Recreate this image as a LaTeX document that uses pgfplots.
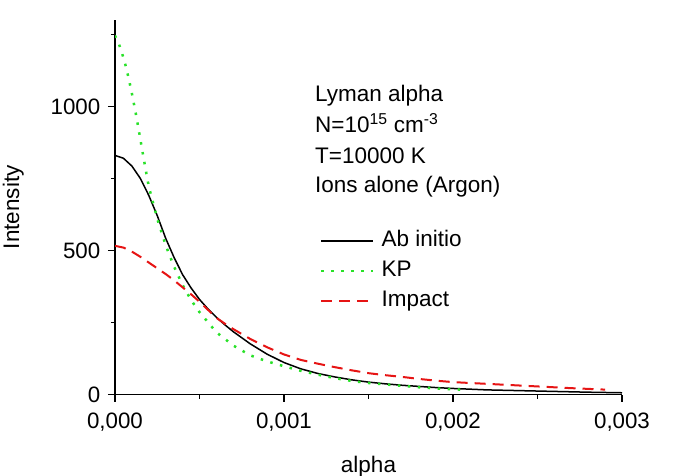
\documentclass[border=0pt]{standalone}
\usepackage{fontspec}
\setmainfont{Liberation Sans}
\usepackage{pgfplots}
\pgfplotsset{compat=1.18}
\definecolor{kpgreen}{RGB}{40,225,40}
\definecolor{impred}{RGB}{230,20,20}
\newcommand{\bigf}{\fontsize{22.5bp}{26bp}\selectfont}
\newcommand{\tickf}{\fontsize{22.3bp}{26bp}\selectfont}
\begin{document}
\bigf
\begin{tikzpicture}
\useasboundingbox (0,0) rectangle (675bp,476bp);
\begin{axis}[
  at={(115bp,81.5bp)}, anchor=south west,
  scale only axis, width=507bp, height=374.5bp,
  xmin=0, xmax=0.003, ymin=0, ymax=1300,
  axis x line=bottom, axis y line=left,
  axis line style={-, line width=1.5bp},
  tick align=outside, major tick length=7bp, minor tick length=4bp,
  every tick/.style={black, line width=1.2bp},
  scaled x ticks=false,
  xtick={0,0.001,0.002,0.003}, xticklabels={{0,000},{0,001},{0,002},{0,003}},
  minor xtick={0.0005,0.0015,0.0025},
  ytick={0,500,1000}, yticklabels={0,500,1000},
  minor ytick={250,750,1250},
  tick label style={font=\tickf},
  xticklabel style={yshift=-4bp},
  xlabel={alpha}, ylabel={Intensity},
  xlabel style={at={(axis description cs:0.5,-0.2085)}, anchor=base, font=\bigf},
  ylabel style={at={(axis description cs:-0.18935,0.5)}, anchor=base, font=\bigf},
  legend cell align=left,
  legend image code/.code={\draw[#1] (0bp,0bp) -- (52bp,0bp);},
  legend style={at={(0.4043,0.4379)}, anchor=north west, draw=none, fill=none,
    inner sep=0pt, row sep=9bp, column sep=7bp,
    font=\bigf,
    nodes={inner sep=0pt, text height=16bp, text depth=5bp}},
]
\addplot[black, line width=1.5bp] coordinates {
(0,830)(0.00005,820)(0.0001,793)(0.00015,750)(0.0002,691)(0.00025,621)(0.0003,542)(0.00035,475)(0.0004,416)(0.00045,370)(0.0005,330)(0.00055,297)(0.0006,268)(0.00065,242)(0.0007,218)(0.0008,176)(0.0009,140)(0.001,111)(0.0011,89)(0.0012,73)(0.0013,61)(0.0014,51)(0.0015,43)(0.0016,37)(0.0017,32)(0.0018,28)(0.0019,24)(0.002,21)(0.0022,16)(0.0025,12)(0.0028,8)(0.003,6)
};
\addlegendentry{Ab initio}
\addplot[kpgreen, line width=2.5bp, dash pattern=on 2.5bp off 7.5bp] coordinates {
(0,1246)(0.00002,1222)(0.00004,1188)(0.00006,1148)(0.00008,1100)(0.0001,1045)(0.00012,985)(0.00014,920)(0.00016,852)(0.00018,785)(0.0002,722)(0.00025,610)(0.0003,518)(0.00035,443)(0.0004,380)(0.00045,328)(0.0005,286)(0.0006,216)(0.0007,170)(0.0008,136)(0.0009,115)(0.001,98)(0.0011,82)(0.0012,69)(0.0013,57)(0.0014,47)(0.0015,40)(0.0016,35)(0.0017,30)(0.0018,25)(0.0019,21)(0.002,18)(0.00205,17)
};
\addlegendentry{KP}
\addplot[impred, line width=2bp, dash pattern=on 11bp off 7bp] coordinates {
(0,516)(0.00005,510)(0.0001,496)(0.00015,478)(0.0002,458)(0.00025,438)(0.0003,418)(0.00035,396)(0.0004,372)(0.00045,348)(0.0005,322)(0.00055,294)(0.0006,266)(0.00065,246)(0.0007,227)(0.0008,193)(0.0009,164)(0.001,139)(0.0011,120)(0.0012,107)(0.0013,95)(0.0014,84)(0.0015,74)(0.0016,67)(0.0017,61)(0.0018,54)(0.0019,48)(0.002,43)(0.0022,37)(0.0025,28)(0.0027,22)(0.0029,17)
};
\addlegendentry{Impact}
\node[anchor=base west, inner sep=0pt] at (rel axis cs:0.3945,0.782) {Lyman alpha};
\node[anchor=base west, inner sep=0pt] at (rel axis cs:0.3945,0.6996) {N=10\textsuperscript{15} cm\textsuperscript{-3}};
\node[anchor=base west, inner sep=0pt] at (rel axis cs:0.3945,0.618) {T=10000 K};
\node[anchor=base west, inner sep=0pt] at (rel axis cs:0.3945,0.539) {Ions alone (Argon)};
\end{axis}
\end{tikzpicture}
\end{document}
